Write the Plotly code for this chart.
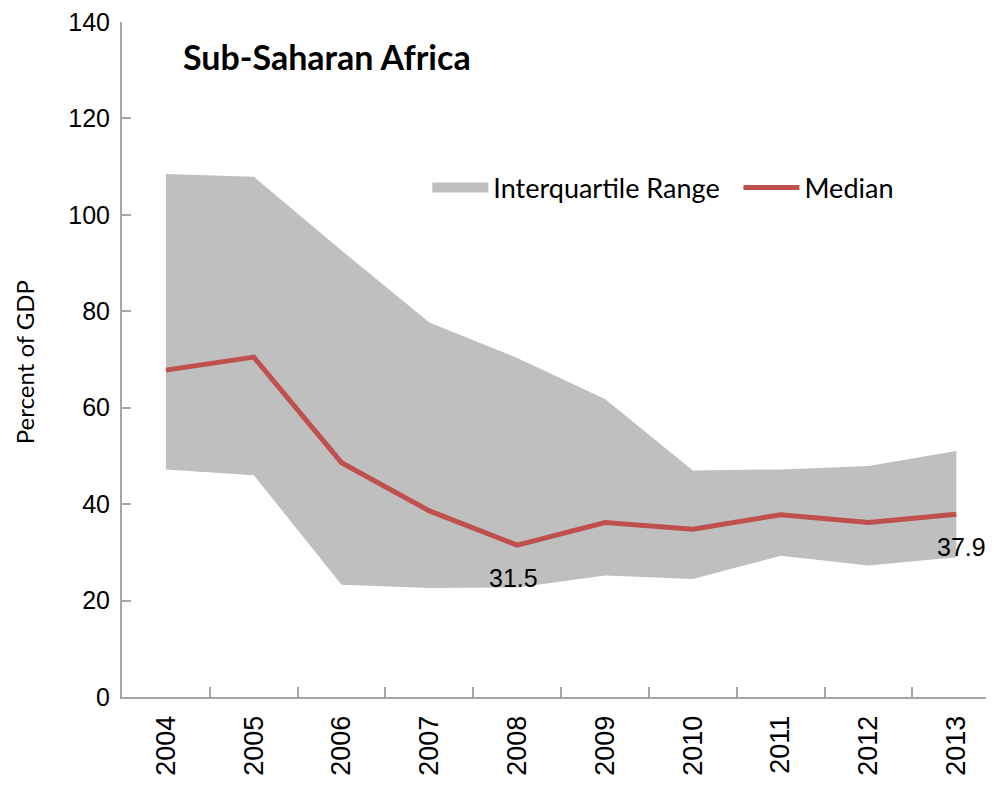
import plotly.graph_objects as go

years = ["2004", "2005", "2006", "2007", "2008", "2009", "2010", "2011", "2012", "2013"]
iqr_upper = [108.5, 107.9, 92.6, 77.7, 70.3, 61.8, 47.0, 47.2, 47.9, 51.0]
iqr_lower = [47.2, 46.0, 23.3, 22.6, 22.7, 25.2, 24.5, 29.3, 27.3, 29.0]
median = [67.8, 70.5, 48.6, 38.6, 31.5, 36.2, 34.8, 37.8, 36.2, 37.9]
y_ticks = [0, 20, 40, 60, 80, 100, 120, 140]
labelled = [4, 9]

ARIAL = "Liberation Sans, Arial, sans-serif"
SANS = "Lato, Carlito, Calibri, sans-serif"
NBSP = "\u00a0"
GRAY = "#bfbfbf"
RED = "#c0504d"

fig = go.Figure()
fig.add_trace(go.Scatter(x=years, y=iqr_lower, mode="lines", line=dict(width=0),
                         showlegend=False, hoverinfo="skip", legendgroup="iqr"))
fig.add_trace(go.Scatter(x=years, y=iqr_upper, mode="lines", line=dict(width=0),
                         fill="tonexty", fillcolor=GRAY, showlegend=False,
                         legendgroup="iqr", name="Interquartile Range"))
# legend entry for the range (thick swatch)
fig.add_trace(go.Scatter(x=[None], y=[None], mode="lines", line=dict(color=GRAY, width=17),
                         legendgroup="iqr", name="Interquartile Range" + NBSP * 2))
fig.add_trace(go.Scatter(x=years, y=median, mode="lines", line=dict(color=RED, width=5),
                         name="Median"))

# data labels
shifts = {4: -4, 9: 5}
for i in labelled:
    fig.add_annotation(x=i, y=median[i], text=f"{median[i]}", showarrow=False,
                       yshift=-33, xshift=shifts[i],
                       font=dict(family=ARIAL, size=25, color="black"))

# title
fig.add_annotation(xref="paper", yref="paper", x=0.067, y=0.949, xanchor="left", yanchor="middle",
                   text="<b>Sub-Saharan Africa</b>", showarrow=False,
                   font=dict(family=SANS, size=34, color="black"))

# y axis title
fig.add_annotation(xref="paper", yref="paper", x=0, y=0.496, xanchor="center", yanchor="middle",
                   xshift=-98, textangle=-90, text="Percent of GDP", showarrow=False,
                   font=dict(family=SANS, size=24, color="black"))

fig.update_layout(
    width=994, height=786,
    margin=dict(l=114, r=0, t=12, b=97),
    paper_bgcolor="white", plot_bgcolor="white",
    showlegend=True,
    legend=dict(orientation="h", x=0.347, y=0.754, xanchor="left", yanchor="middle",
                traceorder="normal",
                font=dict(family=SANS, size=27, color="black"),
                bgcolor="rgba(0,0,0,0)", itemwidth=56),
    xaxis=dict(type="category", range=[-0.5, 9.52], showgrid=False,
               showline=True, linecolor="#a6a6a6", linewidth=2,
               ticks="inside", tickson="boundaries", ticklen=10, tickcolor="#a6a6a6", tickwidth=2,
               tickangle=-90, ticklabelstandoff=6,
               tickfont=dict(family=ARIAL, size=27, color="black")),
    yaxis=dict(range=[0, 140], tickvals=y_ticks, showgrid=False, zeroline=False,
               showline=True, linecolor="#a6a6a6", linewidth=2,
               ticks="inside", ticklen=9, tickcolor="#a6a6a6", tickwidth=2,
               ticklabelstandoff=5, ticklabeloverflow="allow",
               tickfont=dict(family=ARIAL, size=25, color="black")),
)

fig.write_html("out.html")
